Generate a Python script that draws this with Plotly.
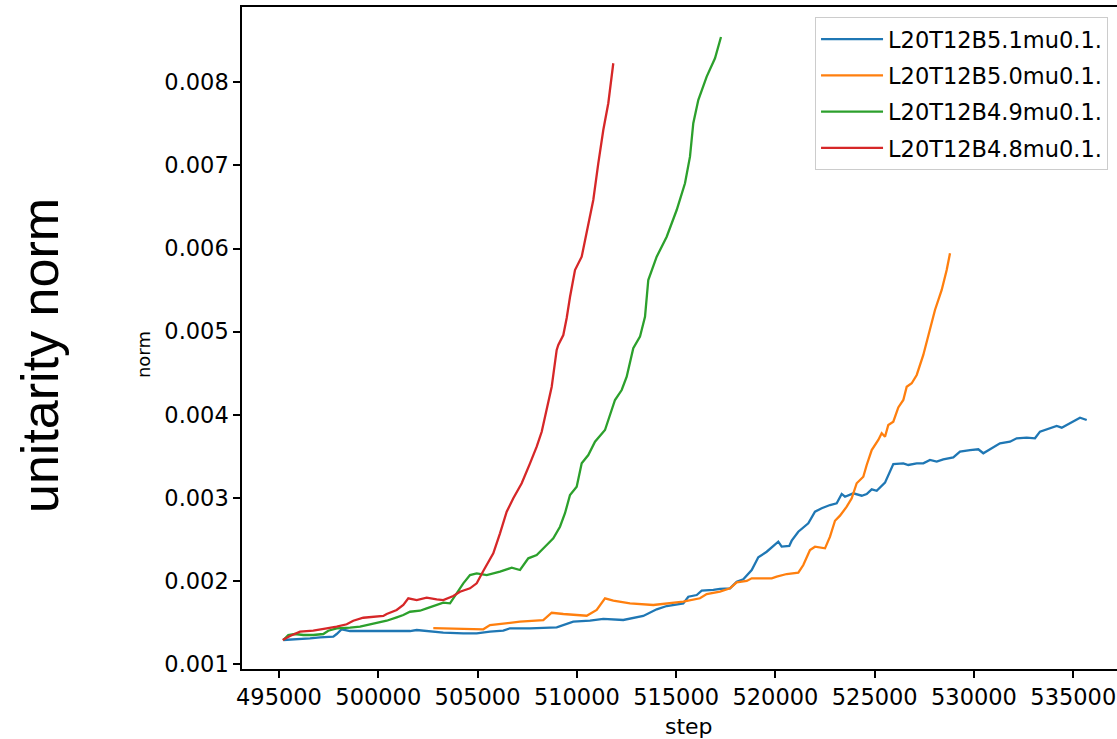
import plotly.graph_objects as go

# Training step (x) and unitarity norm (y) for each run
steps_b51 = [495217, 495891, 496561, 497065, 497735, 497906, 498158, 498576, 499583, 500253,
             501260, 501597, 501935, 502604, 503274, 504282, 504956, 505626, 506296, 506633,
             507640, 508985, 509318, 509821, 510662, 511332, 512339, 513346, 514021, 514525,
             515361, 515613, 516036, 516288, 516872, 517209, 517713, 518050, 518383, 518806,
             519138, 519561, 520145, 520316, 520699, 520820, 521152, 521656, 521993, 522331,
             522749, 523086, 523338, 523504, 523923, 524346, 524597, 524849, 525101, 525519,
             525937, 526441, 526693, 527116, 527448, 527784, 528122, 528454, 528958, 529295,
             529799, 530217, 530469, 530806, 531310, 531813, 532151, 532654, 533072, 533324,
             533828, 534165, 534417, 534835, 535087, 535339, 535676]
norm_b51 = [0.001289, 0.001297, 0.001309, 0.001321, 0.001329, 0.001361, 0.001418, 0.001397, 0.001397, 0.001397,
            0.001389, 0.001397, 0.001409, 0.001389, 0.001377, 0.001369, 0.001369, 0.001389, 0.001401, 0.001430,
            0.001430, 0.001442, 0.001469, 0.001509, 0.001521, 0.001542, 0.001530, 0.001578, 0.001658, 0.001698,
            0.001730, 0.001810, 0.001830, 0.001882, 0.001891, 0.001903, 0.001911, 0.001990, 0.002019, 0.002131,
            0.002284, 0.002351, 0.002472, 0.002412, 0.002420, 0.002484, 0.002592, 0.002693, 0.002833, 0.002874,
            0.002913, 0.002934, 0.003046, 0.003013, 0.003054, 0.003025, 0.003046, 0.003102, 0.003085, 0.003182,
            0.003407, 0.003415, 0.003395, 0.003415, 0.003415, 0.003455, 0.003435, 0.003463, 0.003487, 0.003555,
            0.003575, 0.003584, 0.003536, 0.003584, 0.003656, 0.003675, 0.003716, 0.003723, 0.003716, 0.003796,
            0.003836, 0.003864, 0.003844, 0.003897, 0.003928, 0.003964, 0.003936]

steps_b50 = [502771, 505289, 505626, 506296, 507137, 508310, 508733, 509318, 510496, 510999,
             511417, 511835, 512676, 513850, 515361, 516200, 516538, 517209, 517713, 518050,
             518554, 518806, 519813, 520065, 520569, 521153, 521405, 521741, 521993, 522497,
             522749, 523000, 523252, 523590, 523842, 524093, 524426, 524597, 524849, 525181,
             525352, 525519, 525685, 525937, 526189, 526441, 526612, 526864, 527116, 527448,
             527700, 528036, 528374, 528541, 528625, 528792]
norm_b50 = [0.001433, 0.001418, 0.001469, 0.001490, 0.001509, 0.001529, 0.001617, 0.001602, 0.001581, 0.001650,
            0.001791, 0.001762, 0.001730, 0.001710, 0.001750, 0.001791, 0.001842, 0.001870, 0.001911, 0.001983,
            0.001999, 0.002031, 0.002031, 0.002051, 0.002083, 0.002099, 0.002191, 0.002372, 0.002412, 0.002392,
            0.002532, 0.002724, 0.002785, 0.002893, 0.002994, 0.003175, 0.003254, 0.003395, 0.003575, 0.003696,
            0.003776, 0.003735, 0.003876, 0.003916, 0.004087, 0.004177, 0.004337, 0.004378, 0.004478, 0.004719,
            0.004959, 0.005260, 0.005501, 0.005661, 0.005741, 0.005942]

steps_b49 = [495217, 495468, 495806, 496224, 496727, 497231, 497483, 497906, 498576, 499080,
             499583, 500087, 500424, 500927, 501260, 501597, 502100, 502438, 502942, 503274,
             503612, 503949, 504282, 504619, 504956, 505460, 506130, 506719, 507137, 507555,
             507978, 508482, 508814, 509151, 509403, 509655, 509992, 510244, 510576, 510914,
             511417, 511921, 512258, 512510, 512842, 513180, 513432, 513598, 513769, 514021,
             514525, 515028, 515446, 515698, 515864, 516116, 516539, 516957, 517259]
norm_b49 = [0.001289, 0.001349, 0.001361, 0.001349, 0.001349, 0.001361, 0.001401, 0.001430, 0.001437, 0.001449,
            0.001478, 0.001502, 0.001521, 0.001562, 0.001590, 0.001629, 0.001641, 0.001670, 0.001710, 0.001738,
            0.001730, 0.001851, 0.001971, 0.002071, 0.002091, 0.002071, 0.002111, 0.002159, 0.002131, 0.002272,
            0.002312, 0.002432, 0.002513, 0.002652, 0.002814, 0.003034, 0.003134, 0.003415, 0.003515, 0.003675,
            0.003816, 0.004177, 0.004297, 0.004457, 0.004799, 0.004939, 0.005179, 0.005621, 0.005741, 0.005901,
            0.006142, 0.006463, 0.006785, 0.007105, 0.007507, 0.007787, 0.008068, 0.008289, 0.008545]

steps_b48 = [495186, 495554, 496058, 496727, 497402, 497906, 498409, 498742, 499245, 499749,
             500253, 500424, 500927, 501260, 501512, 501935, 502438, 502942, 503274, 503778,
             504115, 504619, 504956, 505288, 505540, 505792, 506130, 506467, 506800, 507223,
             507641, 507978, 508230, 508482, 508734, 508985, 509066, 509318, 509489, 509655,
             509907, 510244, 510496, 510828, 511080, 511332, 511584, 511835]
norm_b48 = [0.001289, 0.001337, 0.001389, 0.001401, 0.001430, 0.001449, 0.001478, 0.001521, 0.001557, 0.001569,
            0.001578, 0.001602, 0.001650, 0.001710, 0.001791, 0.001770, 0.001798, 0.001779, 0.001770, 0.001818,
            0.001870, 0.001911, 0.001971, 0.002119, 0.002231, 0.002332, 0.002573, 0.002833, 0.002994, 0.003175,
            0.003415, 0.003615, 0.003795, 0.004057, 0.004337, 0.004779, 0.004839, 0.004959, 0.005164, 0.005417,
            0.005741, 0.005901, 0.006183, 0.006584, 0.007025, 0.007426, 0.007748, 0.008229]

run_names = ["L20T12B5.1mu0.1.", "L20T12B5.0mu0.1.", "L20T12B4.9mu0.1.", "L20T12B4.8mu0.1."]
run_colors = ["#1f77b4", "#ff7f0e", "#2ca02c", "#d62728"]

x_ticks = [495000, 500000, 505000, 510000, 515000, 520000, 525000, 530000, 535000]
y_ticks = [0.001, 0.002, 0.003, 0.004, 0.005, 0.006, 0.007, 0.008]

series = [(steps_b51, norm_b51), (steps_b50, norm_b50), (steps_b49, norm_b49), (steps_b48, norm_b48)]

fig = go.Figure()
for (xs, ys), name, color in zip(series, run_names, run_colors):
    fig.add_trace(go.Scatter(
        x=xs, y=ys, mode="lines", name=name, legendgroup=name,
        line=dict(color=color, width=2.3),
    ))

axis_font = dict(family="DejaVu Sans", size=22.5, color="#000000")

fig.update_layout(
    width=1117, height=739,
    margin=dict(l=242, r=0, t=7, b=70),
    paper_bgcolor="white", plot_bgcolor="white",
    showlegend=True,
    legend=dict(
        x=0.6549, y=0.9849, xanchor="left", yanchor="top",
        font=dict(family="DejaVu Sans", size=22.5, color="#000000"),
        bordercolor="#cccccc", borderwidth=1, bgcolor="white",
        tracegroupgap=4, itemwidth=62,
    ),
    xaxis=dict(
        range=[493137, 537202], tickvals=x_ticks, tickformat="d",
        showgrid=False, zeroline=False, showline=True, linecolor="#000000",
        linewidth=1.5, mirror=True, ticks="outside", ticklen=7, tickwidth=1.5,
        tickcolor="#000000", tickfont=axis_font,
    ),
    yaxis=dict(
        range=[0.00094, 0.008906], tickvals=y_ticks, tickformat=".3f",
        showgrid=False, zeroline=False, showline=True, linecolor="#000000",
        linewidth=1.5, ticks="outside", ticklen=7, tickwidth=1.5,
        tickcolor="#000000", tickfont=axis_font,
    ),
    annotations=[
        dict(text="step", xref="paper", yref="paper", x=0.511, y=-0.0876,
             xanchor="center", yanchor="middle", showarrow=False,
             font=dict(family="DejaVu Sans", size=22, color="#000000")),
        dict(text="norm", xref="paper", yref="paper", x=-0.1131, y=0.4743,
             xanchor="center", yanchor="middle", showarrow=False, textangle=-90,
             font=dict(family="DejaVu Sans", size=18, color="#000000")),
        dict(text="unitarity norm", xref="paper", yref="paper", x=-0.2309, y=0.4743,
             xanchor="center", yanchor="middle", showarrow=False, textangle=-90,
             font=dict(family="Liberation Sans", size=52, color="#000000")),
    ],
)

fig.write_html("out.html")
